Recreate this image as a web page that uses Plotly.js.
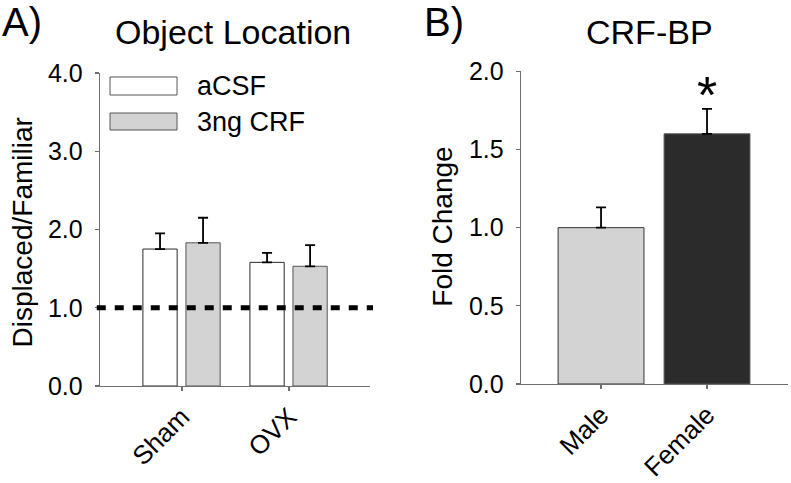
<!DOCTYPE html>
<html>
<head>
<meta charset="utf-8">
<script src="https://cdn.plot.ly/plotly-3.0.1.min.js"></script>
<style>html,body{margin:0;padding:0;background:#fff;}#chart{width:791px;height:483px;}</style>
</head>
<body>
<div id="chart"></div>
<script>
// ---- Data ----
const groupsA = ['Sham', 'OVX'];
const seriesNamesA = ['aCSF', '3ng CRF'];
const aCSF = [1.75, 1.58];
const aCSFerr = [0.20, 0.12];
const crf3ng = [1.83, 1.53];
const crf3ngErr = [0.32, 0.27];
const chanceLevel = 1.0;

const groupsB = ['Male', 'Female'];
const foldChange = [1.00, 1.60];
const foldChangeErr = [0.13, 0.16];
const sigMarkB = ['', '*'];

const yTicksA = [0, 1, 2, 3, 4];
const yTicksB = [0, 0.5, 1, 1.5, 2];

// ---- Styles ----
const FONT = 'Liberation Sans, Arial, sans-serif';
const axisGray = '#6e6e6e';
const errStyle = {type: 'data', symmetric: false, color: '#000', thickness: 1.8, width: 5};

const traces = [
  {type: 'bar', x: groupsA, y: aCSF, name: seriesNamesA[0], xaxis: 'x', yaxis: 'y',
   width: 0.32, offset: -0.365,
   marker: {color: '#ffffff', line: {color: '#2a2a2a', width: 1}},
   error_y: Object.assign({array: aCSFerr, arrayminus: aCSFerr.map(() => 0)}, errStyle)},
  {type: 'bar', x: groupsA, y: crf3ng, name: seriesNamesA[1], xaxis: 'x', yaxis: 'y',
   width: 0.32, offset: 0.037,
   marker: {color: '#d3d3d3', line: {color: '#555555', width: 1}},
   error_y: Object.assign({array: crf3ngErr, arrayminus: crf3ngErr.map(() => 0)}, errStyle)},
  {type: 'bar', x: groupsB, y: foldChange, name: 'CRF-BP', xaxis: 'x2', yaxis: 'y2',
   width: 0.81,
   marker: {color: ['#d3d3d3', '#2b2b2b'], line: {color: ['#333333', '#555555'], width: 1}},
   error_y: Object.assign({array: foldChangeErr, arrayminus: foldChangeErr.map(() => 0)}, errStyle)}
];

const commonX = {
  type: 'category', showline: true, linecolor: axisGray, linewidth: 1.3,
  ticks: 'outside', ticklen: 4, tickcolor: axisGray, tickwidth: 1.3,
  tickangle: -45, showgrid: false, zeroline: false,
  tickfont: {family: FONT, size: 26, color: '#000'}
};
const commonY = {
  showline: true, linecolor: axisGray, linewidth: 1.3,
  ticks: 'outside', ticklen: 4, tickcolor: axisGray, tickwidth: 1.3,
  showgrid: false, zeroline: false, tickformat: '.1f', ticklabelstandoff: 7,
  tickfont: {family: FONT, size: 25, color: '#000'}
};

const annotations = [
  {text: 'A)', xref: 'paper', yref: 'paper', x: 0.0, y: 0.955, xanchor: 'left', yanchor: 'middle', showarrow: false,
   font: {family: FONT, size: 40, color: '#000'}},
  {text: 'B)', xref: 'paper', yref: 'paper', x: 0.533, y: 0.955, xanchor: 'left', yanchor: 'middle', showarrow: false,
   font: {family: FONT, size: 40, color: '#000'}},
  {text: 'Object Location', xref: 'paper', yref: 'paper', x: 0.294, y: 0.934, xanchor: 'center', yanchor: 'middle', showarrow: false,
   font: {family: FONT, size: 34, color: '#000'}},
  {text: 'CRF-BP', xref: 'paper', yref: 'paper', x: 0.8205, y: 0.934, xanchor: 'center', yanchor: 'middle', showarrow: false,
   font: {family: FONT, size: 34, color: '#000'}},
  {text: 'Displaced/Familiar', xref: 'paper', yref: 'paper', x: 0.029, y: 0.5186, xanchor: 'center', yanchor: 'middle', textangle: -90, showarrow: false,
   font: {family: FONT, size: 28, color: '#000'}},
  {text: 'Fold Change', xref: 'paper', yref: 'paper', x: 0.559, y: 0.531, xanchor: 'center', yanchor: 'middle', textangle: -90, showarrow: false,
   font: {family: FONT, size: 28, color: '#000'}},
  // legend labels
  {text: seriesNamesA[0], xref: 'paper', yref: 'paper', x: 0.2465, y: 0.8219, xanchor: 'left', yanchor: 'middle', showarrow: false,
   font: {family: FONT, size: 27, color: '#000'}},
  {text: seriesNamesA[1], xref: 'paper', yref: 'paper', x: 0.2465, y: 0.7484, xanchor: 'left', yanchor: 'middle', showarrow: false,
   font: {family: FONT, size: 27, color: '#000'}}
];
// significance marks above error bars
groupsB.forEach((g, i) => {
  if (sigMarkB[i]) {
    annotations.push({text: sigMarkB[i], xref: 'x2', yref: 'y2', x: g, y: foldChange[i] + foldChangeErr[i],
      xanchor: 'center', yanchor: 'bottom', yshift: -17, showarrow: false,
      font: {family: FONT, size: 52, color: '#000'}});
  }
});

const shapes = [
  {type: 'line', xref: 'x domain', yref: 'y', x0: -0.012, x1: 1.011, y0: chanceLevel, y1: chanceLevel,
   line: {color: '#000', width: 5, dash: '9px,9px'}, layer: 'above'},
  {type: 'rect', xref: 'paper', yref: 'paper', x0: 0.1391, x1: 0.2238, y0: 0.8033, y1: 0.8406,
   fillcolor: '#ffffff', line: {color: '#555555', width: 1}},
  {type: 'rect', xref: 'paper', yref: 'paper', x0: 0.1391, x1: 0.2238, y0: 0.7308, y1: 0.7660,
   fillcolor: '#d3d3d3', line: {color: '#555555', width: 1}}
];

const layout = {
  width: 791, height: 483,
  margin: {l: 0, r: 0, t: 0, b: 0},
  paper_bgcolor: '#fff', plot_bgcolor: '#fff',
  showlegend: false, barmode: 'overlay',
  font: {family: FONT, color: '#000'},
  xaxis: Object.assign({}, commonX, {domain: [0.1264, 0.4678], range: [-0.766, 1.757], anchor: 'y'}),
  yaxis: Object.assign({}, commonY, {domain: [0.2008, 0.8489], range: [0, 4], tickvals: yTicksA, anchor: 'x'}),
  xaxis2: Object.assign({}, commonX, {domain: [0.6587, 0.9962], range: [-0.755, 1.764], anchor: 'y2'}),
  yaxis2: Object.assign({}, commonY, {domain: [0.205, 0.8524], range: [0, 2], tickvals: yTicksB, anchor: 'x2'}),
  annotations: annotations,
  shapes: shapes
};

Plotly.newPlot('chart', traces, layout, {staticPlot: true, displayModeBar: false});
</script>
</body>
</html>
